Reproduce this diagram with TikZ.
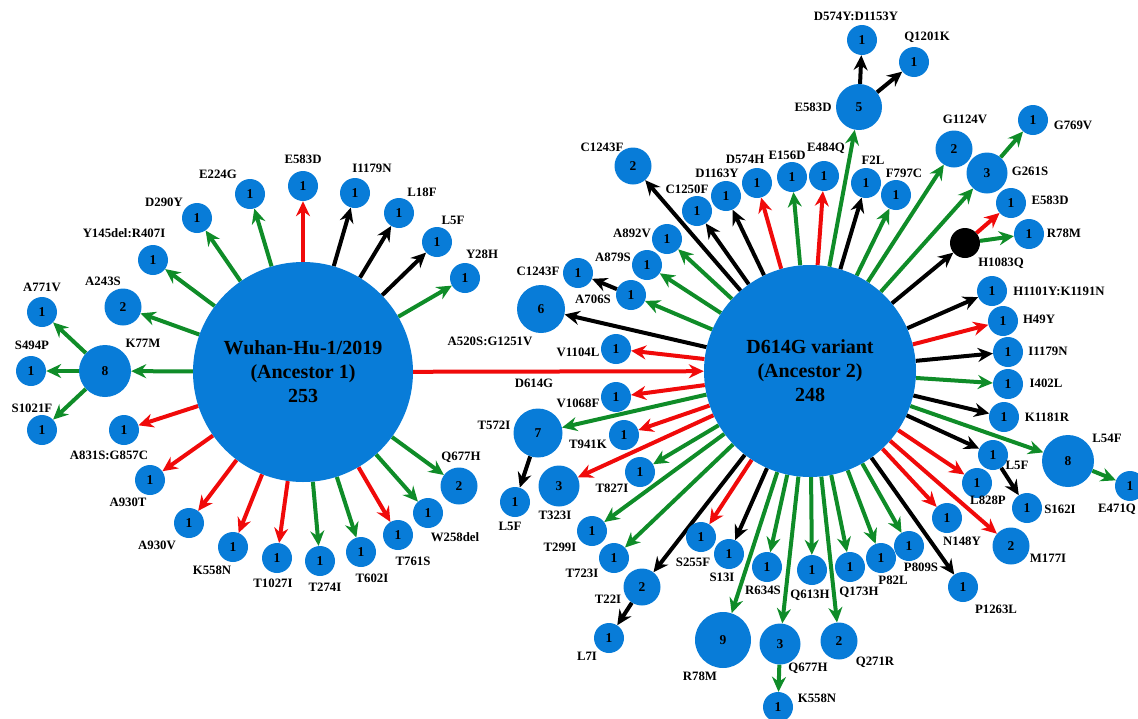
\documentclass[tikz,border=0pt]{standalone}
\usepackage{fontspec}
\setmainfont{Liberation Serif}
\usetikzlibrary{arrows.meta}
\definecolor{hb}{RGB}{8,124,216}
\definecolor{eg}{RGB}{15,140,40}
\definecolor{er}{RGB}{240,10,10}
\pgfdeclarelayer{bg}
\pgfsetlayers{bg,main}
\newcommand\mylabfont{\fontsize{12.8}{14}\selectfont\bfseries}
\newcommand\mynumfont{\fontsize{13.5}{15}\selectfont\bfseries}
\newcommand\mybigfont{\fontsize{20}{24}\selectfont\bfseries}
\tikzset{
  hap/.style={circle, fill=hb, draw=none, inner sep=0pt, font=\mynumfont},
  sA/.style={hap, minimum size=30pt},
  sB/.style={hap, minimum size=37pt},
  sC/.style={hap, minimum size=41pt},
  sE/.style={hap, minimum size=46pt},
  sF/.style={hap, minimum size=48pt},
  sG/.style={hap, minimum size=49pt},
  sH/.style={hap, minimum size=52pt},
  sI/.style={hap, minimum size=56pt},
  blk/.style={circle, fill=black, minimum size=30pt, inner sep=0pt},
  big/.style={circle, fill=hb, inner sep=0pt, align=center, font=\mybigfont},
  lab/.style={font=\mylabfont, inner sep=0pt},
  edge/.style={line width=4pt, -{Stealth[length=15pt,width=14pt,inset=5pt]}},
  egr/.style={edge, draw=eg},
  ere/.style={edge, draw=er},
  ebk/.style={edge, draw=black},
}
\begin{document}
\begin{tikzpicture}[x=1pt,y=-1pt]
\useasboundingbox (0,0) rectangle (1138,718);
% ancestors
\node[big, minimum size=220pt] (W) at (303,372) {Wuhan-Hu-1/2019\\(Ancestor 1)\\253};
\node[big, minimum size=212pt] (D) at (810,371) {D614G variant\\(Ancestor 2)\\248};
\node[lab] (d614gL) at (534,383) {D614G};
% Wuhan children
\node[sH] (k77m) at (105,371) {8}; \node[lab] (k77mL) at (143,343) {K77M};
\node[sA] (a771v) at (42,312) {1}; \node[lab] (a771vL) at (42,287) {A771V};
\node[sA] (s494p) at (31,371) {1}; \node[lab] (s494pL) at (32,345) {S494P};
\node[sA] (s1021f) at (42,430) {1}; \node[lab] (s1021fL) at (32,408) {S1021F};
\node[sB] (a243s) at (123,307) {2}; \node[lab] (a243sL) at (103,281) {A243S};
\node[sA] (y145) at (153,260) {1}; \node[lab] (y145L) at (124,233) {Y145del:R407I};
\node[sA] (d290y) at (197,218) {1}; \node[lab] (d290yL) at (164,202) {D290Y};
\node[sA] (e224g) at (250,194) {1}; \node[lab] (e224gL) at (218,174) {E224G};
\node[sA] (e583w) at (303,186) {1}; \node[lab] (e583wL) at (303,159) {E583D};
\node[sA] (i1179w) at (355,193) {1}; \node[lab] (i1179wL) at (372,168) {I1179N};
\node[sA] (l18f) at (399,213) {1}; \node[lab] (l18fL) at (422,192) {L18F};
\node[sA] (l5fw) at (437,242) {1}; \node[lab] (l5fwL) at (453,220) {L5F};
\node[sA] (y28h) at (465,278) {1}; \node[lab] (y28hL) at (482,254) {Y28H};
\node[sA] (a831s) at (124,430) {1}; \node[lab] (a831sL) at (109,455) {A831S:G857C};
\node[sA] (a930t) at (150,480) {1}; \node[lab] (a930tL) at (128,502) {A930T};
\node[sA] (a930v) at (189,523) {1}; \node[lab] (a930vL) at (157,545) {A930V};
\node[sA] (k558w) at (233,547) {1}; \node[lab] (k558wL) at (212,570) {K558N};
\node[sA] (t1027i) at (277,558) {1}; \node[lab] (t1027iL) at (273,583) {T1027I};
\node[sA] (t274i) at (320,561) {1}; \node[lab] (t274iL) at (325,587) {T274I};
\node[sA] (t602i) at (361,552) {1}; \node[lab] (t602iL) at (372,578) {T602I};
\node[sA] (t761s) at (398,535) {1}; \node[lab] (t761sL) at (413,561) {T761S};
\node[sA] (w258) at (428,513) {1}; \node[lab] (w258L) at (455,537) {W258del};
\node[sB] (q677w) at (459,486) {2}; \node[lab] (q677wL) at (461,457) {Q677H};
% D614G children
\node[sB] (c1243b) at (633,166) {2}; \node[lab] (c1243bL) at (602,147) {C1243F};
\node[sA] (c1250f) at (697,211) {1}; \node[lab] (c1250fL) at (687,189) {C1250F};
\node[sA] (d1163y) at (726,196) {1}; \node[lab] (d1163yL) at (717,173) {D1163Y};
\node[sA] (d574h) at (757,183) {1}; \node[lab] (d574hL) at (745,159) {D574H};
\node[sA] (e156d) at (792,177) {1}; \node[lab] (e156dL) at (787,155) {E156D};
\node[sA] (e484q) at (824,176) {1}; \node[lab] (e484qL) at (826,148) {E484Q};
\node[sE] (e583f) at (859,107) {5}; \node[lab] (e583fL) at (813,107) {E583D};
\node[sA] (d574y) at (862,40) {1}; \node[lab] (d574yL) at (856,16) {D574Y:D1153Y};
\node[sA] (q1201k) at (914,62) {1}; \node[lab] (q1201kL) at (927,37) {Q1201K};
\node[sA] (f2l) at (866,183) {1}; \node[lab] (f2lL) at (873,160) {F2L};
\node[sA] (f797c) at (896,195) {1}; \node[lab] (f797cL) at (904,173) {F797C};
\node[sB] (g1124v) at (954,149) {2}; \node[lab] (g1124vL) at (965,119) {G1124V};
\node[sC] (g261s) at (987,173) {3}; \node[lab] (g261sL) at (1030,171) {G261S};
\node[sA] (g769v) at (1033,120) {1}; \node[lab] (g769vL) at (1073,125) {G769V};
\node[sA] (e583h) at (1011,203) {1}; \node[lab] (e583hL) at (1050,200) {E583D};
\node[blk] (h1083q) at (965,243) {}; \node[lab] (h1083qL) at (1001,263) {H1083Q};
\node[sA] (r78mh) at (1029,234) {1}; \node[lab] (r78mhL) at (1064,233) {R78M};
\node[sA] (h1101y) at (992,291) {1}; \node[lab] (h1101yL) at (1059,291) {H1101Y:K1191N};
\node[sA] (h49y) at (1003,321) {1}; \node[lab] (h49yL) at (1039,319) {H49Y};
\node[sA] (i1179d) at (1008,352) {1}; \node[lab] (i1179dL) at (1048,351) {I1179N};
\node[sA] (i402l) at (1008,384) {1}; \node[lab] (i402lL) at (1046,383) {I402L};
\node[sA] (k1181r) at (1004,417) {1}; \node[lab] (k1181rL) at (1047,417) {K1181R};
\node[sH] (l54f) at (1068,461) {8}; \node[lab] (l54fL) at (1107,438) {L54F};
\node[sA] (e471q) at (1130,486) {1}; \node[lab] (e471qL) at (1117,509) {E471Q};
\node[sA] (l5fd) at (993,455) {1}; \node[lab] (l5fdL) at (1017,465) {L5F};
\node[sA] (s162i) at (1027,508) {1}; \node[lab] (s162iL) at (1060,509) {S162I};
\node[sA] (l828p) at (977,483) {1}; \node[lab] (l828pL) at (988,500) {L828P};
\node[sB] (m177i) at (1011,546) {2}; \node[lab] (m177iL) at (1048,558) {M177I};
\node[sA] (n148y) at (947,518) {1}; \node[lab] (n148yL) at (962,541) {N148Y};
\node[sA] (p1263l) at (963,587) {1}; \node[lab] (p1263lL) at (996,609) {P1263L};
\node[sA] (p809s) at (909,546) {1}; \node[lab] (p809sL) at (921,567) {P809S};
\node[sA] (p82l) at (881,558) {1}; \node[lab] (p82lL) at (893,580) {P82L};
\node[sA] (q173h) at (850,567) {1}; \node[lab] (q173hL) at (859,592) {Q173H};
\node[sA] (q613h) at (812,570) {1}; \node[lab] (q613hL) at (810,595) {Q613H};
\node[sB] (q271r) at (839,641) {2}; \node[lab] (q271rL) at (875,662) {Q271R};
\node[sC] (q677d) at (780,644) {3}; \node[lab] (q677dL) at (808,668) {Q677H};
\node[sA] (k558d) at (778,707) {1}; \node[lab] (k558dL) at (817,698) {K558N};
\node[sA] (r634s) at (767,567) {1}; \node[lab] (r634sL) at (763,590) {R634S};
\node[sI] (r78m9) at (723,640) {9}; \node[lab] (r78m9L) at (700,676) {R78M};
\node[sA] (s13i) at (729,554) {1}; \node[lab] (s13iL) at (722,577) {S13I};
\node[sA] (s255f) at (701,537) {1}; \node[lab] (s255fL) at (693,562) {S255F};
\node[sB] (t22i) at (642,587) {2}; \node[lab] (t22iL) at (608,599) {T22I};
\node[sA] (l7i) at (609,638) {1}; \node[lab] (l7iL) at (587,656) {L7I};
\node[sA] (t723i) at (614,558) {1}; \node[lab] (t723iL) at (582,573) {T723I};
\node[sA] (t299i) at (592,531) {1}; \node[lab] (t299iL) at (560,547) {T299I};
\node[sA] (t827i) at (640,472) {1}; \node[lab] (t827iL) at (612,488) {T827I};
\node[sC] (t323i) at (559,486) {3}; \node[lab] (t323iL) at (555,515) {T323I};
\node[sA] (t941k) at (624,435) {1}; \node[lab] (t941kL) at (588,444) {T941K};
\node[sG] (t572i) at (538,433) {7}; \node[lab] (t572iL) at (494,425) {T572I};
\node[sA] (l5f7) at (515,502) {1}; \node[lab] (l5f7L) at (510,526) {L5F};
\node[sA] (v1068f) at (616,397) {1}; \node[lab] (v1068fL) at (578,403) {V1068F};
\node[sA] (v1104l) at (616,349) {1}; \node[lab] (v1104lL) at (578,352) {V1104L};
\node[sF] (a520s) at (541,309) {6}; \node[lab] (a520sL) at (490,341) {A520S:G1251V};
\node[sA] (a706s) at (631,295) {1}; \node[lab] (a706sL) at (593,299) {A706S};
\node[sA] (c1243a) at (578,273) {1}; \node[lab] (c1243aL) at (538,271) {C1243F};
\node[sA] (a879s) at (647,265) {1}; \node[lab] (a879sL) at (613,257) {A879S};
\node[sA] (a892v) at (667,239) {1}; \node[lab] (a892vL) at (632,233) {A892V};
\begin{pgfonlayer}{bg}
% Wuhan edges
\draw[ere] (W) -- (D);
\draw[egr] (W) -- (k77m);
\draw[egr] (k77m) -- (a771v);
\draw[egr] (k77m) -- (s494p);
\draw[egr] (k77m) -- (s1021f);
\draw[egr] (W) -- (a243s);
\draw[egr] (W) -- (y145);
\draw[egr] (W) -- (d290y);
\draw[egr] (W) -- (e224g);
\draw[ere] (W) -- (e583w);
\draw[ebk] (W) -- (i1179w);
\draw[ebk] (W) -- (l18f);
\draw[ebk] (W) -- (l5fw);
\draw[egr] (W) -- (y28h);
\draw[ere] (W) -- (a831s);
\draw[ere] (W) -- (a930t);
\draw[ere] (W) -- (a930v);
\draw[ere] (W) -- (k558w);
\draw[ere] (W) -- (t1027i);
\draw[egr] (W) -- (t274i);
\draw[egr] (W) -- (t602i);
\draw[ere] (W) -- (t761s);
\draw[egr] (W) -- (w258);
\draw[egr] (W) -- (q677w);
% D614G edges
\draw[ebk] (D) -- (c1243b);
\draw[ebk] (D) -- (c1250f);
\draw[ebk] (D) -- (d1163y);
\draw[ere] (D) -- (d574h);
\draw[egr] (D) -- (e156d);
\draw[ere] (D) -- (e484q);
\draw[egr] (D) -- (e583f);
\draw[ebk] (e583f) -- (d574y);
\draw[ebk] (e583f) -- (q1201k);
\draw[ebk] (D) -- (f2l);
\draw[egr] (D) -- (f797c);
\draw[egr] (D) -- (g1124v);
\draw[egr] (D) -- (g261s);
\draw[egr] (g261s) -- (g769v);
\draw[ebk] (D) -- (h1083q);
\draw[ere] (h1083q) -- (e583h);
\draw[egr] (h1083q) -- (r78mh);
\draw[ebk] (D) -- (h1101y);
\draw[ere] (D) -- (h49y);
\draw[ebk] (D) -- (i1179d);
\draw[egr] (D) -- (i402l);
\draw[ebk] (D) -- (k1181r);
\draw[egr] (D) -- (l54f);
\draw[egr] (l54f) -- (e471q);
\draw[ebk] (D) -- (l5fd);
\draw[ebk] (l5fd) -- (s162i);
\draw[ere] (D) -- (l828p);
\draw[ere] (D) -- (m177i);
\draw[ere] (D) -- (n148y);
\draw[ebk] (D) -- (p1263l);
\draw[egr] (D) -- (p809s);
\draw[egr] (D) -- (p82l);
\draw[egr] (D) -- (q173h);
\draw[egr] (D) -- (q613h);
\draw[egr] (D) -- (q271r);
\draw[egr] (D) -- (q677d);
\draw[egr] (q677d) -- (k558d);
\draw[egr] (D) -- (r634s);
\draw[egr] (D) -- (r78m9);
\draw[ebk] (D) -- (s13i);
\draw[ere] (D) -- (s255f);
\draw[ebk] (D) -- (t22i);
\draw[ebk] (t22i) -- (l7i);
\draw[egr] (D) -- (t723i);
\draw[egr] (D) -- (t299i);
\draw[egr] (D) -- (t827i);
\draw[ere] (D) -- (t323i);
\draw[ere] (D) -- (t941k);
\draw[egr] (D) -- (t572i);
\draw[ebk] (t572i) -- (l5f7);
\draw[ere] (D) -- (v1068f);
\draw[ere] (D) -- (v1104l);
\draw[ebk] (D) -- (a520s);
\draw[egr] (D) -- (a706s);
\draw[ebk] (a706s) -- (c1243a);
\draw[egr] (D) -- (a879s);
\draw[egr] (D) -- (a892v);
\end{pgfonlayer}
\end{tikzpicture}
\end{document}
